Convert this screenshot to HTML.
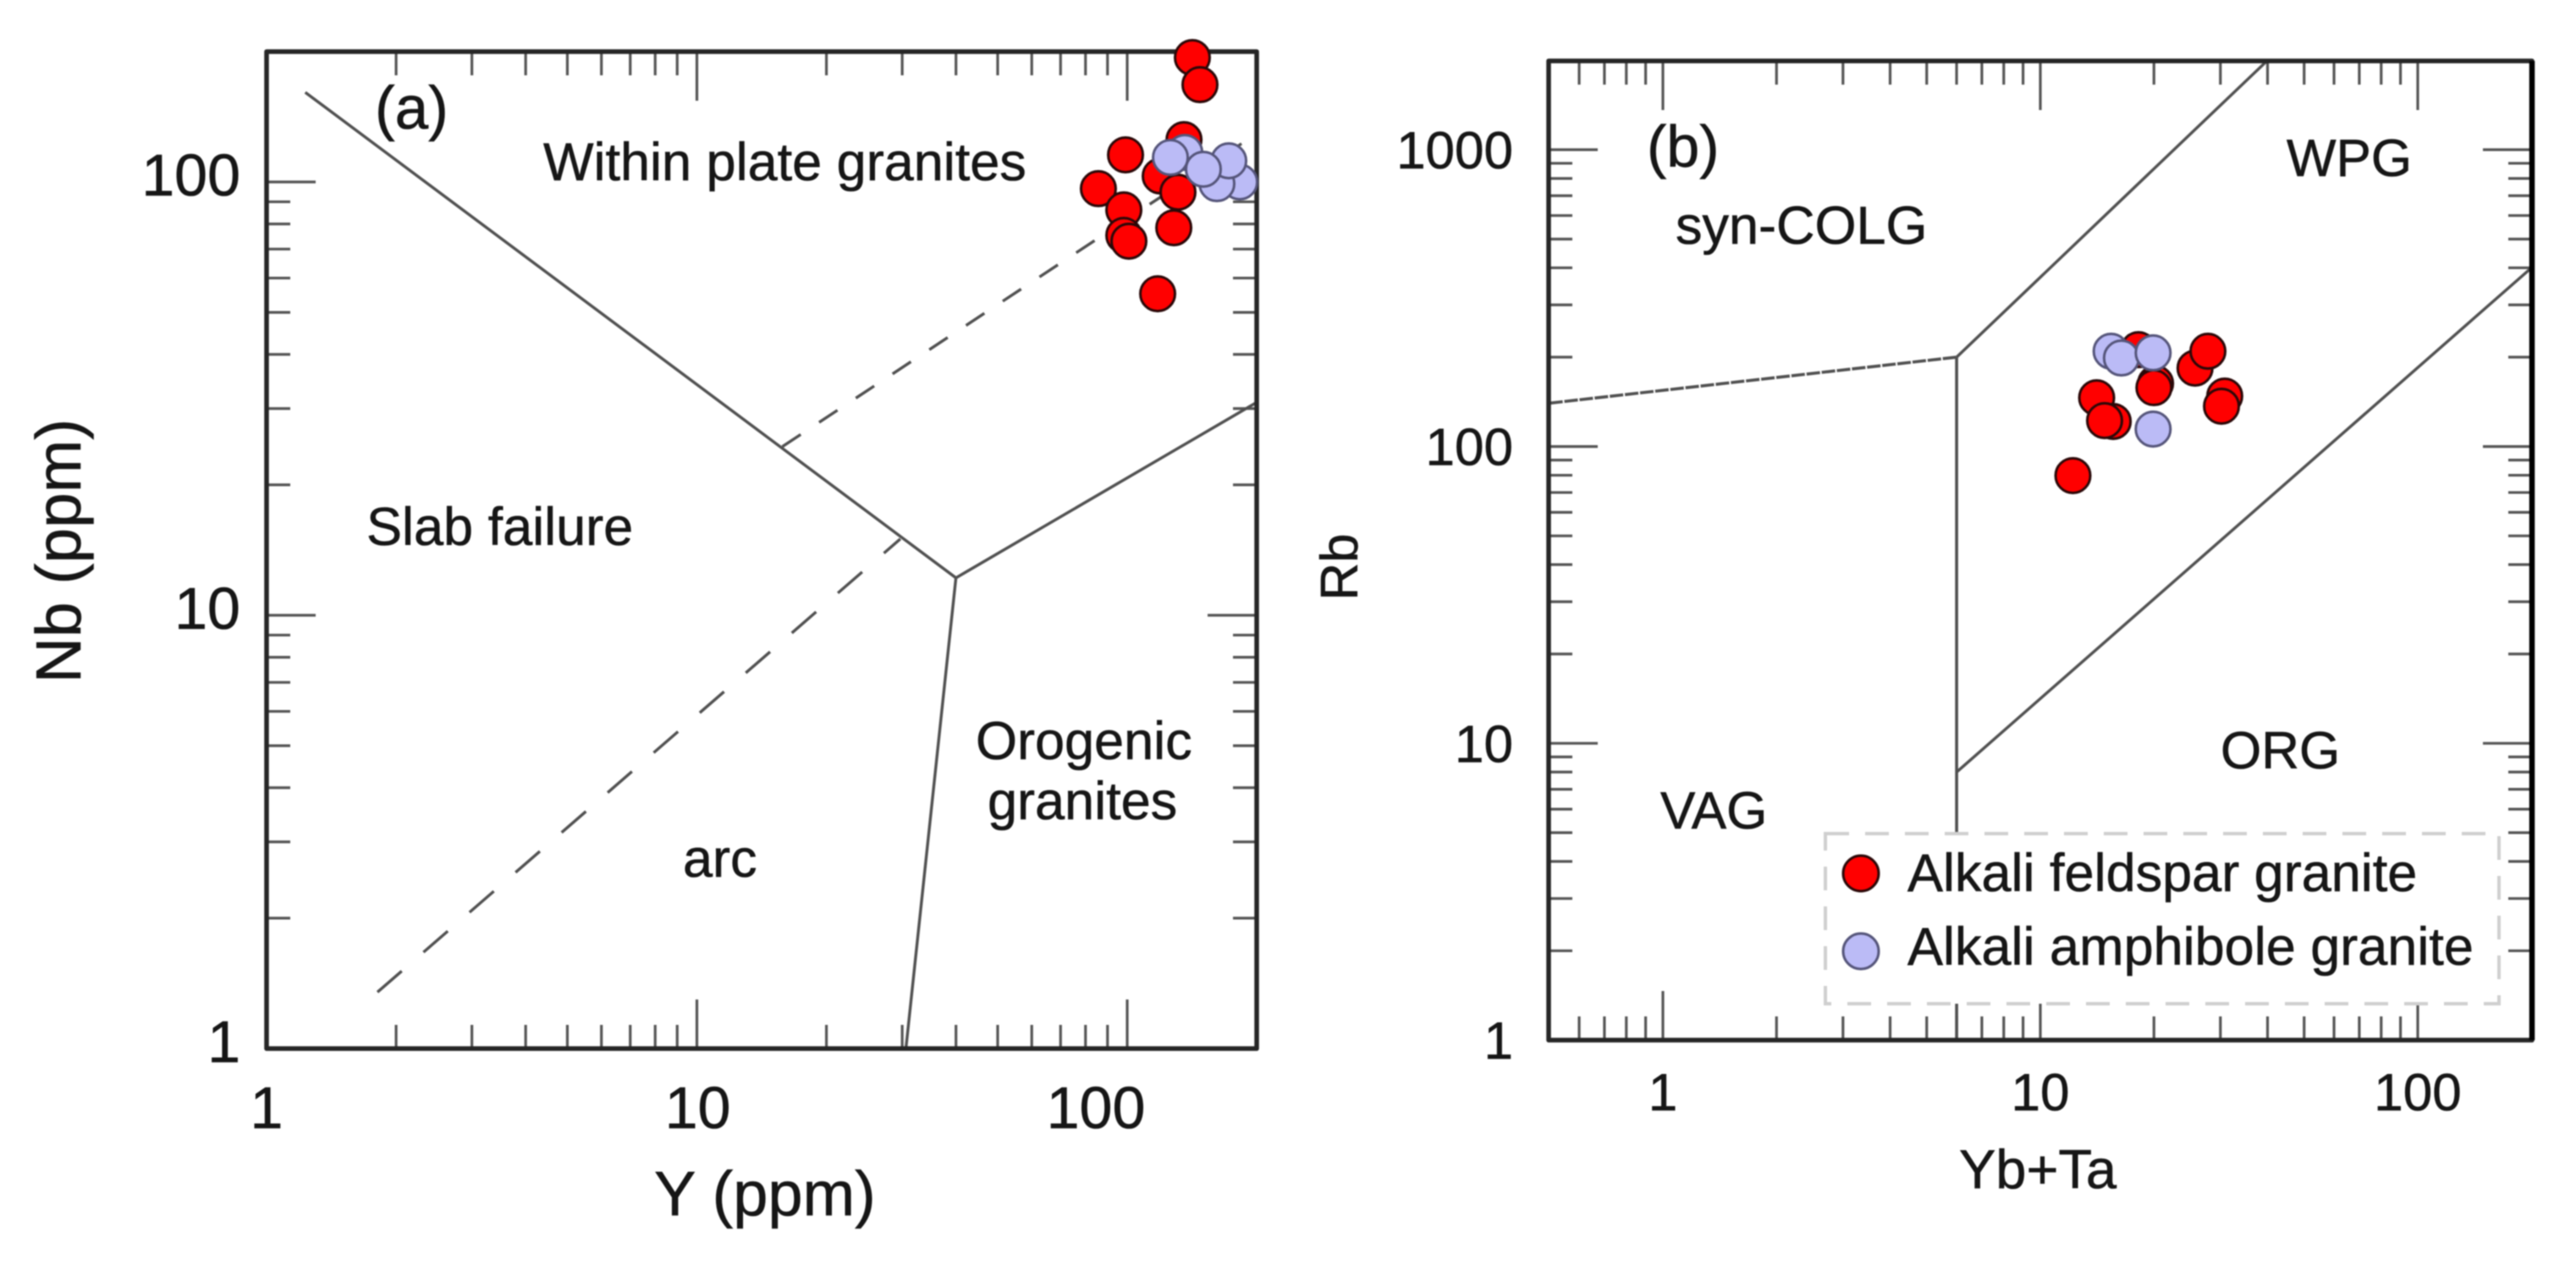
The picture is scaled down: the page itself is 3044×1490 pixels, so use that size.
<!DOCTYPE html>
<html lang="en">
<head>
<meta charset="utf-8">
<title>Granite discrimination diagrams</title>
<style>
html,body{margin:0;padding:0;background:#fff;width:3044px;height:1490px;overflow:hidden}
svg{display:block;filter:blur(0.9px)}
text{font-family:"Liberation Sans",sans-serif;fill:#161616;stroke:#161616;stroke-width:0.6}
</style>
</head>
<body>
<svg id="fig" xmlns="http://www.w3.org/2000/svg" width="3044" height="1490" viewBox="0 0 3044 1490">
  <rect width="3044" height="1490" fill="#fff"/>
  <g id="panelA"></g>
  <g id="panelB"></g>

  <g font-size="63">
    <text x="443" y="152" font-size="71">(a)</text>
    <text x="642" y="213">Within plate granites</text>
    <text x="433" y="644">Slab failure</text>
    <text x="1153" y="897">Orogenic</text>
    <text x="1167" y="968">granites</text>
    <text x="807" y="1036">arc</text>
  </g>
  <g font-size="74">
    <text x="773" y="1436">Y (ppm)</text>
    <text font-size="75" transform="translate(95,651) rotate(-90)" text-anchor="middle">Nb (ppm)</text>
  </g>

  <g font-size="62">
    <text x="1946" y="197" font-size="70">(b)</text>
    <text x="1980" y="288" font-size="63">syn-COLG</text>
    <text x="2702" y="208">WPG</text>
    <text x="2624" y="908">ORG</text>
    <text x="1962" y="979">VAG</text>
  </g>
  <g font-size="65">
    <text x="2408" y="1404" text-anchor="middle">Yb+Ta</text>
    <text font-size="62" transform="translate(1604,670) rotate(-90)" text-anchor="middle">Rb</text>
  </g>

  <g id="legend">
    <rect x="2157" y="985" width="796" height="201" fill="#fff" stroke="#cfcfcf" stroke-width="4" stroke-dasharray="28 19"/>
    <g>
      <circle cx="2199" cy="1032" r="21" fill="#ff0000" stroke="#2a0808" stroke-width="3"/>
      <text x="2254" y="1053" font-size="63">Alkali feldspar granite</text>
    </g>
    <g>
      <circle cx="2199" cy="1124" r="21" fill="#bbbbf6" stroke="#55557a" stroke-width="3"/>
      <text x="2254" y="1140" font-size="63">Alkali amphibole granite</text>
    </g>
  </g>
</svg>
<script>
// Panel (a) data
const aRedY  = [141.7,147.6,135.5,99.1,85.7,119.3,131.2,98.2,98.2,100.9,128.3,117.7];
const aRedNb = [193.7,167.7,125.2,115.5,96.5,103.2,94.7,86.2,75.3,73,78.4,55.2];
const aBlueY  = [136.1,182.6,161.6,172.2,126,150.3];
const aBlueNb = [117,100,99.1,111.9,113.9,107];
const aSolidUpperX = [1.23,40,200];
const aSolidUpperY = [161,12.2,31];
const aSolidLowerX = [40,30.6];
const aSolidLowerY = [12.2,1];
const aDashUpperX = [15.8,197];
const aDashUpperY = [24.5,128];
const aDashLowerX = [1.81,29.7];
const aDashLowerY = [1.35,15];
const aXTickLabels = [1,10,100];
const aYTickLabels = [1,10,100];
// Panel (b) data
const bRedX  = [12.2,14.1,15.6,14.8,18.2,20.2,20,25.7,27.8,30.8,30.2];
const bRedRb = [79.8,146,121.5,122.3,212,163.2,157.9,183.7,209.4,147.9,136.7];
const bBlueX  = [15.4,16.4,19.9,19.9];
const bBlueRb = [209.4,198.7,206.8,114.5];
const bLeftX = [0.5,6];
const bLeftY = [140,200];
const bUpperX = [6,40];
const bUpperY = [200,2000];
const bVertX = [6,6];
const bVertY = [200,1];
const bLowerX = [6,200];
const bLowerY = [8,400];
const bXTickLabels = [1,10,100];
const bYTickLabels = [1,10,100,1000];
const minorMultipliers = [1,2,3,4,5,6,7,8,9];

const NS = 'http://www.w3.org/2000/svg';
function mk(tag, attrs, parent){
  const el = document.createElementNS(NS, tag);
  for (const k in attrs) el.setAttribute(k, attrs[k]);
  parent.appendChild(el);
  return el;
}
function logScale(vMin, pMin, decade, sign){
  return v => pMin + sign * decade * Math.log10(v / vMin);
}
function drawTicks(g, name, sx, sy, box, xDomain, yDomain, xMajors, yMajors, minorLen, majorLen){
  const expRange = d => {
    const out = [];
    for (let e = Math.floor(Math.log10(d[0])); e <= Math.ceil(Math.log10(d[1])); e++) {
      minorMultipliers.forEach(m => {
        const v = m * Math.pow(10, e);
        if (v > d[0] * 1.001 && v < d[1] * 0.999) out.push(v);
      });
    }
    return out;
  };
  expRange(xDomain).forEach(v => {
    const major = xMajors.some(m => Math.abs(m - v) < 1e-6);
    const len = major ? majorLen : minorLen;
    const x = sx(v);
    const b = mk('line', {x1:x, x2:x, y1:box.bottom, y2:box.bottom - len, stroke:'#555', 'stroke-width':3.2}, g);
    
    
    const t = mk('line', {x1:x, x2:x, y1:box.top, y2:box.top + len, stroke:'#555', 'stroke-width':3.2}, g);
    
    
  });
  expRange(yDomain).forEach(v => {
    const major = yMajors.some(m => Math.abs(m - v) < 1e-6);
    const len = major ? majorLen : minorLen;
    const y = sy(v);
    const l = mk('line', {x1:box.left, x2:box.left + len, y1:y, y2:y, stroke:'#555', 'stroke-width':3.2}, g);
    
    
    const r = mk('line', {x1:box.right, x2:box.right - len, y1:y, y2:y, stroke:'#555', 'stroke-width':3.2}, g);
    
    
  });
}
function drawLine(g, lineName, xs, ys, sx, sy, dash, w){
  const pts = xs.map((x,i) => sx(x).toFixed(1) + ',' + sy(ys[i]).toFixed(1)).join(' ');
  const attrs = {points:pts, fill:'none', stroke:'#505050', 'stroke-width':w || 3.4};
  if (dash) attrs['stroke-dasharray'] = dash;
  const el = mk('polyline', attrs, g);
  
  
}
function drawPoints(g, seriesName, xs, ys, sx, sy, fill, stroke, r){
  xs.forEach((x,i) => {
    const c = mk('circle', {cx:sx(x), cy:sy(ys[i]), r:r, fill:fill, stroke:stroke, 'stroke-width':3}, g);
    
    
  });
}
function drawFrame(g, name, box){
  const f = mk('rect', {x:box.left, y:box.top, width:box.right-box.left, height:box.bottom-box.top, fill:'none', stroke:'#262626', 'stroke-width':5.5, 'stroke-linejoin':'round'}, g);
  
  
}

// Panel A
(function(){
  const g = document.getElementById('panelA');
  const box = {left:315, right:1485, top:61, bottom:1239};
  const sx = logScale(1, 315, 508.5, 1);
  const sy = logScale(1, 1239, 512, -1);
  drawTicks(g, 'panel-a', sx, sy, box, [1,200], [1,200], aXTickLabels, aYTickLabels, 28, 58);
  drawLine(g, 'boundary-upper-solid', aSolidUpperX, aSolidUpperY, sx, sy);
  drawLine(g, 'boundary-lower-solid', aSolidLowerX, aSolidLowerY, sx, sy);
  drawLine(g, 'boundary-upper-dashed', aDashUpperX, aDashUpperY, sx, sy, '26 26');
  drawLine(g, 'boundary-lower-dashed', aDashLowerX, aDashLowerY, sx, sy, '38 34');
  drawFrame(g, 'panel-a-frame', box);
  aXTickLabels.forEach((v,i) => {
    const offs = [0, 1, -37];
    const t = mk('text', {x:sx(v)+offs[i], y:1333, 'text-anchor':'middle', 'font-size':70}, g);
    t.textContent = String(v);
    
    
  });
  aYTickLabels.forEach(v => {
    const t = mk('text', {x:284, y:sy(v)+16, 'text-anchor':'end', 'font-size':70}, g);
    t.textContent = String(v);
    
    
  });
  drawPoints(g, 'point-alkali-feldspar-a', aRedY, aRedNb, sx, sy, '#ff0000', '#2a0808', 20.5);
  drawPoints(g, 'point-alkali-amphibole-a', aBlueY, aBlueNb, sx, sy, '#bbbbf6', '#55557a', 20.5);
})();

// Panel B
(function(){
  const g = document.getElementById('panelB');
  const box = {left:1830, right:2992, top:72, bottom:1229};
  const sx = logScale(1, 1965, 446, 1);
  const sy = logScale(1, 1229, 350.7, -1);
  drawTicks(g, 'panel-b', sx, sy, box, [0.5,200], [1,2000], bXTickLabels, bYTickLabels, 28, 58);
  drawLine(g, 'boundary-left', bLeftX, bLeftY, sx, sy, '16 2', 3.6);
  drawLine(g, 'boundary-upper', bUpperX, bUpperY, sx, sy);
  drawLine(g, 'boundary-vertical', bVertX, bVertY, sx, sy, null, 3.6);
  drawLine(g, 'boundary-lower', bLowerX, bLowerY, sx, sy);
  drawFrame(g, 'panel-b-frame', box);
  const edge = mk('line', {x1:box.right, x2:box.right, y1:box.top, y2:box.bottom, stroke:'#000', 'stroke-width':6.5}, g);
  
  
  bXTickLabels.forEach(v => {
    const t = mk('text', {x:sx(v), y:1312, 'text-anchor':'middle', 'font-size':62}, g);
    t.textContent = String(v);
    
    
  });
  bYTickLabels.forEach(v => {
    const t = mk('text', {x:1788, y:sy(v)+22, 'text-anchor':'end', 'font-size':62}, g);
    t.textContent = String(v);
    
    
  });
  drawPoints(g, 'point-alkali-feldspar-b', bRedX, bRedRb, sx, sy, '#ff0000', '#2a0808', 20.5);
  drawPoints(g, 'point-alkali-amphibole-b', bBlueX, bBlueRb, sx, sy, '#bbbbf6', '#55557a', 20.5);
})();
</script>
</body>
</html>
